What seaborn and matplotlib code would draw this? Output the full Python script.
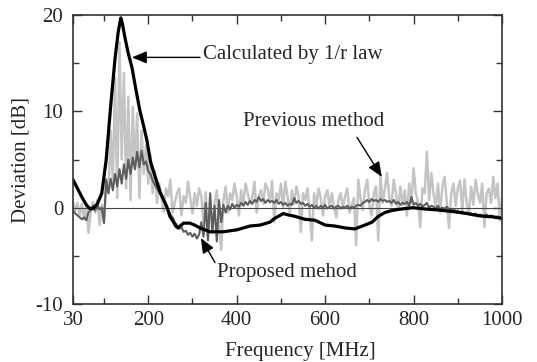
import numpy as np
import matplotlib
matplotlib.use("Agg")
import matplotlib.pyplot as plt
import seaborn as sns
from matplotlib.ticker import MultipleLocator, FixedLocator

# measurement grid, 5 MHz step
freq = np.arange(30, 1001, 5)

# previous method (light gray), one row = 50 MHz
previous = [
    0.6, -0.3, 0.5, -0.8, 0.4, -1.2, 0.2, -2.6, -0.4, 0.6,
    -0.5, 0.8, -1.8, 0.3, -1.5, 3.0, 1.5, 8.0, 2.5, 13.5,
    1.0, 17.2, 5.0, 14.0, 2.0, 11.5, 0.8, 10.5, 4.0, 9.8,
    1.0, 8.0, 3.5, 6.5, 2.5, 5.5, 1.5, 3.8, 0.5, 2.5,
    1.0, -0.4, 2.0, 1.2, 2.9, -0.5, 0.5, 1.5, 2.0, -0.8,
    1.2, 0.5, 2.7, 1.0, -0.6, 1.5, 0.2, 2.0, 1.2, -1.5,
    1.6, -3.0, 1.0, -2.6, 0.5, 1.8, -1.5, -4.4, 0.8, 2.2,
    -0.5, 1.5, 0.8, 2.5, 1.2, -0.8, 1.8, 0.4, 2.5, 1.5,
    0.5, 1.0, 2.7, -0.5, 1.2, 1.8, 0.4, 2.5, 2.0, 0.5,
    2.8, -1.5, 1.5, 0.8, 2.5, 0.0, 2.7, 1.2, -0.5, 1.8,
    0.4, 2.2, 1.2, -2.5, 1.5, 0.8, 2.0, -0.5, -3.4, 1.5,
    0.2, 2.0, 1.0, -0.8, 1.2, 1.8, 0.0, 1.5, 0.2, -1.0,
    0.8, 1.5, 0.0, 1.2, 2.0, -0.5, 0.3, 1.0, -3.9, 2.9,
    1.0, -0.2, 1.8, 2.9, 0.2, -0.8, 1.5, 2.2, -3.4, 3.4,
    0.5, 2.0, 3.6, 1.0, 0.2, 2.9, 1.5, -0.2, 2.2, 0.3,
    1.8, -0.8, 2.5, 0.5, 4.1, 1.5, 0.5, -2.0, 2.0, 1.5,
    5.8, 0.8, 3.6, 1.5, 0.0, 2.5, -0.5, 2.2, 3.2, 0.5,
    -2.1, 1.5, 2.5, 0.2, 2.0, 2.8, -0.3, 2.9, 0.5, -0.6,
    2.2, 0.3, 2.9, 1.5, 0.5, 2.5, -2.0, 1.5, 2.0, 0.5,
    3.2, 1.0, 2.5, -1.3, 1.0,
]

# proposed method (dark gray)
proposed = [
    -0.3, -0.6, -0.8, -1.0, -1.2, -1.0, -1.3, -0.5, -0.2, 0.2,
    -0.3, 0.3, -0.2, 0.0, -1.6, 2.9, 1.5, 3.0, 1.8, 3.5,
    2.2, 4.0, 2.5, 4.5, 3.0, 5.0, 3.5, 5.2, 4.0, 5.8,
    4.2, 5.9, 4.5, 4.8, 3.8, 3.5, 2.8, 2.4, 2.0, 1.6,
    1.2, 0.8, 0.3, -0.2, -0.7, -1.0, -1.5, -1.8, -2.2, -2.0,
    -2.5, -2.4, -2.8, -2.6, -3.0, -2.7, -3.2, -2.8, -1.5, -3.0,
    0.5, -3.4, 1.5, -2.5, 0.2, -3.5, 0.8, -1.5, 0.3, -0.5,
    0.2, -0.2, 0.4, 0.0, 0.3, 0.1, 0.5, 0.2, 0.6, 0.3,
    0.7, 0.4, 0.8, 0.6, 1.1, 0.7, 0.9, 0.5, 0.8, 0.6,
    0.7, 0.5, 0.8, 0.4, 0.6, 0.3, 0.5, 0.2, 0.4, 0.3,
    1.0, 0.5, 0.7, 0.4, 0.5, 0.2, 0.4, 0.1, 0.3, 0.0,
    0.2, -0.1, 0.2, 0.0, 0.3, -0.1, 0.1, 0.2, -0.1, 0.1,
    0.2, -0.1, 0.1, 0.0, 0.2, -0.1, 0.1, 0.0, 0.2, 0.3,
    0.2, 0.5, 0.6, 0.8, 0.6, 0.9, 0.7, 0.8, 0.6, 0.9,
    0.7, 0.8, 0.6, 0.7, 0.5, 0.8, 0.4, 0.6, 0.3, 0.5,
    0.4, 0.6, 0.2, 1.1, 0.3, 0.5, 0.2, 0.4, 0.1, 0.3,
    0.5, 0.0, 0.2, 0.1, -0.1, 0.2, -0.2, 0.0, -0.1, 0.1,
    -0.2, -0.3, -0.1, -0.4, -0.3, -0.5, -0.4, -0.6, -0.5, -0.7,
    -0.6, -0.8, -0.6, -0.9, -0.7, -0.8, -0.9, -0.7, -1.0, -0.8,
    -0.9, -1.1, -0.9, -1.0, -1.1,
]

# calculated by 1/r law (black)
calc_freq = [30, 40, 50, 60, 68, 75, 85, 95, 105, 115, 125, 132, 138, 142,
             148, 155, 163, 172, 181, 190, 197, 205, 211, 220, 227, 235,
             242, 249, 256, 262, 267, 272, 280, 294, 305, 317, 340, 369,
             400, 430, 453, 475, 486, 498, 505, 512, 532, 554, 577, 600,
             622, 645, 667, 690, 706, 720, 735, 750, 769, 798, 830, 859,
             889, 920, 950, 979, 1000]
calc_val = [2.9, 2.0, 1.1, 0.3, -0.1, -0.1, 0.4, 1.5, 5.0, 10.5, 15.5, 18.2,
            19.7, 19.0, 17.5, 16.0, 14.6, 12.3, 10.1, 8.4, 7.0, 4.8, 3.9,
            2.6, 1.6, 0.8, 0.1, -0.9, -1.4, -1.9, -2.1, -1.9, -1.6, -1.6,
            -1.8, -2.1, -2.5, -2.5, -2.3, -1.9, -1.8, -1.5, -1.1, -0.8, -0.6,
            -0.7, -0.9, -1.2, -1.3, -1.8, -1.9, -2.1, -2.2, -1.8, -1.5, -0.9,
            -0.5, -0.3, -0.15, 0.0, -0.15, -0.25, -0.4, -0.6, -0.85, -0.95,
            -1.1]

assert len(previous) == len(freq) and len(proposed) == len(freq)

sns.set_style("ticks")
plt.rcParams["font.family"] = ["Liberation Serif", "DejaVu Serif"]
plt.rcParams["axes.unicode_minus"] = False

fig = plt.figure(figsize=(5.37, 3.62), dpi=100)
ax = fig.add_axes([0.136, 0.160, 0.799, 0.7986])

sns.lineplot(x=freq, y=previous, ax=ax, color="#c4c4c4", lw=1.8)
ax.axhline(0, color="#444444", lw=0.8)
sns.lineplot(x=freq, y=proposed, ax=ax, color="#5e5e5e", lw=1.5)
sns.lineplot(x=calc_freq, y=calc_val, ax=ax, color="black", lw=2.3)

ax.set_xlim(30, 1000)
ax.set_ylim(-10, 20)
ax.xaxis.set_major_locator(FixedLocator([30, 200, 400, 600, 800, 1000]))
ax.xaxis.set_minor_locator(FixedLocator([100, 300, 500, 700, 900]))
ax.yaxis.set_major_locator(MultipleLocator(10))
ax.yaxis.set_minor_locator(MultipleLocator(5))
ax.tick_params(which="both", direction="in", top=True, right=True,
               width=1.0, color="#333333", labelsize=15)
ax.tick_params(which="major", length=6.5)
ax.tick_params(which="minor", length=4)
ax.tick_params(axis="y", pad=7)
ax.tick_params(axis="x", pad=5)
for s in ax.spines.values():
    s.set_color("#333333")
    s.set_linewidth(1.2)

ax.set_xlabel("Frequency [MHz]", fontsize=15, labelpad=3)
ax.set_ylabel("Deviation [dB]", fontsize=15, labelpad=4)
ax.xaxis.set_label_coords(0.529, -0.13)

arrow = dict(arrowstyle="-|>,head_length=0.6,head_width=0.25",
             mutation_scale=15, color="black", lw=1.0, shrinkA=0, shrinkB=0)
ax.annotate("", xy=(163, 15.6), xytext=(317, 15.6), arrowprops=arrow)
ax.text(324, 15.9, "Calculated by 1/r law", fontsize=15, va="center")
ax.text(414, 8.9, "Previous method", fontsize=15, va="center")
ax.annotate("", xy=(728, 3.2), xytext=(672, 7.3), arrowprops=arrow)
ax.text(355, -6.7, "Proposed mehod", fontsize=15, va="center")
ax.annotate("", xy=(319, -3.15), xytext=(351, -5.7), arrowprops=arrow)

fig.savefig("out.png", dpi=100)
